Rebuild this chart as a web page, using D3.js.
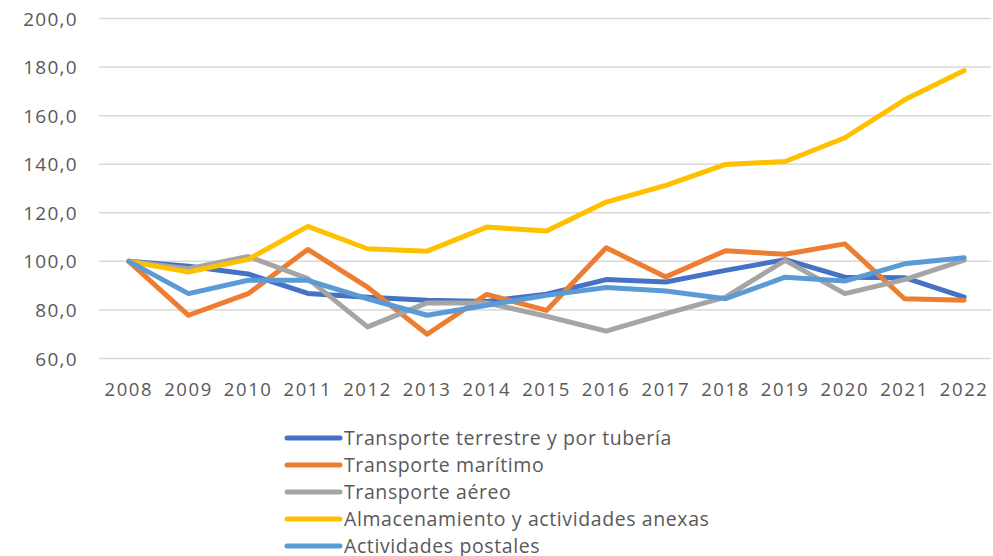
<!DOCTYPE html>
<html>
<head>
<meta charset="utf-8">
<script src="https://cdn.jsdelivr.net/npm/d3@7"></script>
<style>
  body { margin: 0; background: #fff; }
  text { font-family: "Open Sans", sans-serif; fill: #595959; }
</style>
</head>
<body>
<div id="chart"></div>
<script>
// years on the x axis
const years = ["2008","2009","2010","2011","2012","2013","2014","2015","2016","2017","2018","2019","2020","2021","2022"];
const yTicks = [60, 80, 100, 120, 140, 160, 180, 200];

const seriesNames = [
  "Transporte terrestre y por tubería",
  "Transporte marítimo",
  "Transporte aéreo",
  "Almacenamiento y actividades anexas",
  "Actividades postales"
];
const terrestre = [100, 98, 94.8, 86.8, 85.2, 84, 83.5, 86.5, 92.5, 91.5, 96.3, 100.7, 93.5, 93.3, 85.3];
const maritimo = [100, 77.8, 86.7, 104.9, 89.4, 70, 86.4, 79.8, 105.6, 93.6, 104.4, 102.9, 107.2, 84.6, 84];
const aereo = [100, 97, 102, 92.9, 73, 82.9, 82.9, 77.4, 71.3, 78.5, 85.3, 100.4, 86.7, 92.5, 100.5];
const almacenamiento = [100, 95.6, 100.8, 114.4, 105.2, 104.2, 114.1, 112.5, 124.4, 131.3, 139.9, 141.1, 150.9, 166.5, 178.6];
const postales = [100, 86.7, 92.2, 92.2, 84.6, 77.8, 81.9, 86, 89.2, 87.8, 84.6, 93.5, 91.9, 99, 101.5];
const colors = ["#4472C4", "#ED7D31", "#A5A5A5", "#FFC000", "#5B9BD5"];

const allSeries = [terrestre, maritimo, aereo, almacenamiento, postales];

const W = 993, H = 556;
const svg = d3.select("#chart").append("svg")
  .attr("width", W).attr("height", H);

const x = d3.scaleBand().domain(years).range([99, 994]);
const y = d3.scaleLinear().domain([60, 200]).range([358.5, 18.5]);

// gridlines
svg.append("g").selectAll("line")
  .data(yTicks).enter().append("line")
  .attr("x1", 99).attr("x2", 991)
  .attr("y1", d => y(d)).attr("y2", d => y(d))
  .style("stroke", "#d9d9d9").style("stroke-width", 1.5);

// y labels
svg.append("g").selectAll("text")
  .data(yTicks).enter().append("text")
  .attr("x", 78).attr("y", d => y(d) + 7)
  .attr("text-anchor", "end")
  .style("font-size", "19px")
  .style("letter-spacing", "1.3px")
  .text(d => d3.format(".1f")(d).replace(".", ","));

// x labels
svg.append("g").selectAll("text")
  .data(years).enter().append("text")
  .attr("x", d => x(d) + x.bandwidth() / 2)
  .attr("y", 396)
  .attr("text-anchor", "middle")
  .style("font-size", "18.5px")
  .style("letter-spacing", "1.6px")
  .text(d => d);

const line = d3.line()
  .x((d, i) => x(years[i]) + x.bandwidth() / 2)
  .y(d => y(d));

svg.append("g").selectAll("path")
  .data(allSeries).enter().append("path")
  .attr("d", line)
  .style("fill", "none")
  .style("stroke", (d, i) => colors[i])
  .style("stroke-width", 5)
  .style("stroke-linecap", "round")
  .style("stroke-linejoin", "round");

// legend
const legend = svg.append("g").selectAll("g")
  .data(seriesNames).enter().append("g")
  .attr("transform", (d, i) => `translate(0, ${438 + i * 27})`);

legend.append("line")
  .attr("x1", 287).attr("x2", 340)
  .attr("y1", 0).attr("y2", 0)
  .style("stroke", (d, i) => colors[i])
  .style("stroke-width", 5)
  .style("stroke-linecap", "round");

legend.append("text")
  .attr("x", 344).attr("y", 7)
  .style("font-size", "19.5px")
  .style("letter-spacing", "0.6px")
  .text(d => d);
</script>
</body>
</html>
